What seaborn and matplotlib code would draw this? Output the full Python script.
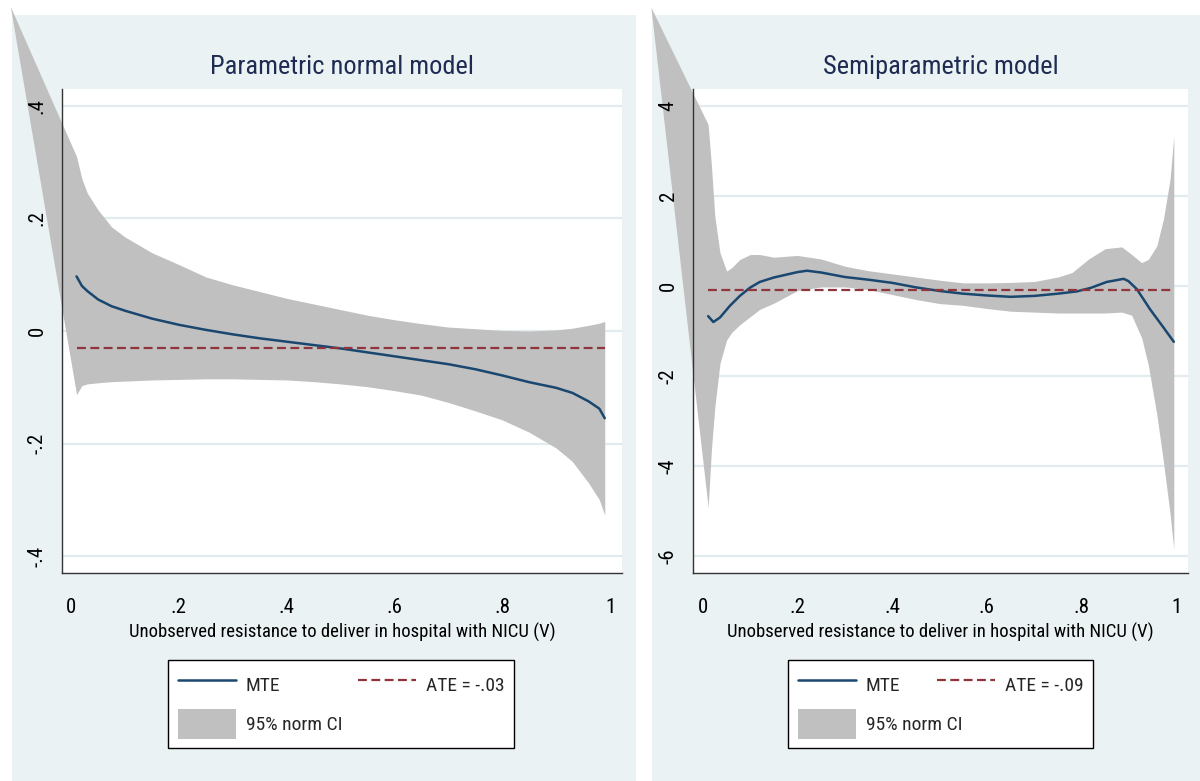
import matplotlib
matplotlib.use("Agg")
import matplotlib.pyplot as plt
from matplotlib.patches import Rectangle, Patch
from matplotlib.lines import Line2D
import pandas as pd
import seaborn as sns

# ---------------------------------------------------------------
# Parametric normal model (left panel)
# ---------------------------------------------------------------
par_v = [0.01, 0.02, 0.03, 0.05, 0.075, 0.10, 0.15, 0.20, 0.25, 0.30, 0.35, 0.40,
         0.45, 0.50, 0.55, 0.60, 0.65, 0.70, 0.75, 0.80, 0.85, 0.90, 0.93, 0.96,
         0.98, 0.99]
par_mte = [0.097, 0.080, 0.071, 0.056, 0.044, 0.036, 0.022, 0.011, 0.002, -0.006,
           -0.013, -0.019, -0.025, -0.031, -0.038, -0.045, -0.052, -0.059, -0.068,
           -0.079, -0.091, -0.101, -0.110, -0.125, -0.138, -0.155]

# band: first point is the stray apex that Stata draws outside the plot region
par_band_v = [-0.113] + par_v
par_upper = [0.577, 0.31, 0.27, 0.245, 0.215, 0.185, 0.167, 0.139, 0.118, 0.096, 0.082,
             0.070, 0.058, 0.048, 0.038, 0.028, 0.020, 0.013, 0.007, 0.004, 0.001,
             0.000, 0.002, 0.005, 0.010, 0.014, 0.017]
par_lower = [0.577, -0.113, -0.097, -0.094, -0.092, -0.090, -0.089, -0.087, -0.086,
             -0.085, -0.085, -0.086, -0.087, -0.090, -0.094, -0.099, -0.106, -0.114,
             -0.127, -0.142, -0.158, -0.180, -0.208, -0.232, -0.270, -0.300, -0.327]
par_ate = -0.03
par_ate_label = "ATE = -.03"

# ---------------------------------------------------------------
# Semiparametric model (right panel)
# ---------------------------------------------------------------
semi_v = [0.011, 0.022, 0.036, 0.057, 0.078, 0.099, 0.12, 0.15, 0.20, 0.22, 0.25,
          0.30, 0.35, 0.40, 0.45, 0.50, 0.55, 0.60, 0.65, 0.70, 0.75, 0.79, 0.82,
          0.853, 0.889, 0.899, 0.917, 0.945, 0.973, 0.995]
semi_mte = [-0.67, -0.80, -0.70, -0.44, -0.22, -0.04, 0.09, 0.19, 0.31, 0.34, 0.30,
            0.20, 0.14, 0.07, -0.03, -0.11, -0.17, -0.21, -0.24, -0.22, -0.17,
            -0.12, -0.04, 0.09, 0.16, 0.11, -0.07, -0.52, -0.92, -1.24]

semi_band_v = [-0.11, 0.011, 0.018, 0.025, 0.036, 0.05, 0.061, 0.078, 0.10, 0.12,
               0.15, 0.20, 0.25, 0.30, 0.35, 0.40, 0.45, 0.50, 0.55, 0.60, 0.65,
               0.70, 0.75, 0.78, 0.815, 0.85, 0.885, 0.906, 0.927, 0.941, 0.959,
               0.973, 0.987, 0.995]
semi_upper = [6.2, 3.59, 2.67, 1.56, 0.74, 0.33, 0.41, 0.59, 0.70, 0.70, 0.64, 0.68,
              0.60, 0.44, 0.34, 0.27, 0.20, 0.13, 0.07, 0.07, 0.08, 0.10, 0.20, 0.30,
              0.60, 0.83, 0.87, 0.70, 0.52, 0.59, 0.89, 1.48, 2.37, 3.33]
semi_lower = [6.2, -4.92, -3.63, -2.70, -1.72, -1.20, -1.03, -0.86, -0.68, -0.52,
              -0.38, -0.10, -0.02, -0.02, -0.08, -0.19, -0.30, -0.39, -0.43, -0.50,
              -0.56, -0.58, -0.60, -0.60, -0.60, -0.60, -0.58, -0.65, -1.15, -1.75,
              -2.85, -3.90, -5.05, -5.85]
semi_ate = -0.09
semi_ate_label = "ATE = -.09"

x_ticks = [0, 0.2, 0.4, 0.6, 0.8, 1.0]
x_ticklabels = ["0", ".2", ".4", ".6", ".8", "1"]
par_yticks = [-0.4, -0.2, 0, 0.2, 0.4]
par_yticklabels = ["-.4", "-.2", "0", ".2", ".4"]
semi_yticks = [-6, -4, -2, 0, 2, 4]
semi_yticklabels = ["-6", "-4", "-2", "0", "2", "4"]

x_label = "Unobserved resistance to deliver in hospital with NICU (V)"

# Stata s2color look
BG = "#EAF2F3"
GRID = "#E2ECEE"
NAVY = "#1A476F"
MAROON = "#90353B"
BAND = "#C0C0C0"
TITLE = "#1E2B52"

sns.set_theme(style="white")
plt.rcParams["font.family"] = ["Roboto Condensed", "DejaVu Sans"]

fig = plt.figure(figsize=(12, 7.81), dpi=100)
fig.patch.set_facecolor("white")

# light panel backgrounds (graph regions)
W, H = 1200.0, 781.0
for x0, x1 in [(12, 636), (652, 1200)]:
    fig.patches.append(Rectangle((x0 / W, 0), (x1 - x0) / W, 1 - 15 / H,
                                 transform=fig.transFigure, facecolor=BG,
                                 edgecolor="none", zorder=-10))

panels = [
    dict(rect=[62 / W, 1 - 573 / H, 560 / W, 484 / H], title="Parametric normal model",
         v=par_v, mte=par_mte, bv=par_band_v, up=par_upper, lo=par_lower,
         ate=par_ate, ate_label=par_ate_label, xlim=(-0.017, 1.022), ylim=(-0.43, 0.43),
         yticks=par_yticks, yticklabels=par_yticklabels,
         legend=(168 / W, 1 - 660 / H, 346 / W)),
    dict(rect=[693 / W, 1 - 573 / H, 495 / W, 484 / H], title="Semiparametric model",
         v=semi_v, mte=semi_mte, bv=semi_band_v, up=semi_upper, lo=semi_lower,
         ate=semi_ate, ate_label=semi_ate_label, xlim=(-0.021, 1.025), ylim=(-6.38, 4.38),
         yticks=semi_yticks, yticklabels=semi_yticklabels,
         legend=(788 / W, 1 - 660 / H, 305 / W)),
]

for p in panels:
    ax = fig.add_axes(p["rect"])
    ax.set_facecolor("white")

    # gridlines under the band, tick labels above it
    for yt in p["yticks"]:
        ax.axhline(yt, color=GRID, linewidth=1.6, zorder=0.3)

    # confidence band (Stata draws it past the plot region, so no clipping)
    ax.fill_between(p["bv"], p["lo"], p["up"], color=BAND, linewidth=0,
                    clip_on=False, zorder=0.4)

    mte_df = pd.DataFrame({"v": p["v"], "mte": p["mte"]})
    sns.lineplot(data=mte_df, x="v", y="mte", ax=ax, color=NAVY, linewidth=1.8,
                 zorder=3, legend=False)

    ate_df = pd.DataFrame({"v": [p["v"][0], p["v"][-1]], "ate": [p["ate"], p["ate"]]})
    sns.lineplot(data=ate_df, x="v", y="ate", ax=ax, color=MAROON, linewidth=1.6,
                 dashes=(4, 2), zorder=4, legend=False)

    ax.set_xlim(*p["xlim"])
    ax.set_ylim(*p["ylim"])
    ax.set_xticks(x_ticks)
    ax.set_xticklabels(x_ticklabels, fontsize=15)
    ax.set_yticks(p["yticks"])
    ax.set_yticklabels(p["yticklabels"], fontsize=15, rotation=90, va="center")
    ax.grid(False)

    for side in ["top", "right"]:
        ax.spines[side].set_visible(False)
    for side in ["left", "bottom"]:
        ax.spines[side].set_color("#333333")
        ax.spines[side].set_linewidth(1.0)
    ax.tick_params(axis="x", direction="out", length=7, width=1, color="#333333",
                   pad=11, labelcolor="black")
    ax.tick_params(axis="y", direction="out", length=5, width=1, color="#333333",
                   pad=6, labelcolor="black")

    ax.set_xlabel(x_label, fontsize=13.5, labelpad=4, color="black")
    ax.set_ylabel("")
    ax.set_title(p["title"], fontsize=19, color=TITLE, pad=11)

    handles = [Line2D([], [], color=NAVY, linewidth=1.8),
               Patch(facecolor=BAND, edgecolor="none"),
               Line2D([], [], color=MAROON, linewidth=1.6, dashes=(4, 2))]
    labels = ["MTE", "95% norm CI", p["ate_label"]]
    lx, ly, lw = p["legend"]
    leg = fig.legend(handles, labels, loc="upper left", bbox_to_anchor=(lx, 0, lw, ly),
                     bbox_transform=fig.transFigure, mode="expand", ncol=2,
                     fontsize=14, frameon=True, fancybox=False, shadow=False,
                     framealpha=1, edgecolor="black", facecolor="white",
                     handlelength=3.0, handleheight=2.0, handletextpad=0.5,
                     labelspacing=0.45, borderpad=0.5, borderaxespad=0)
    leg.get_frame().set_linewidth(1.0)

fig.savefig("out.png", dpi=100, facecolor="white")
